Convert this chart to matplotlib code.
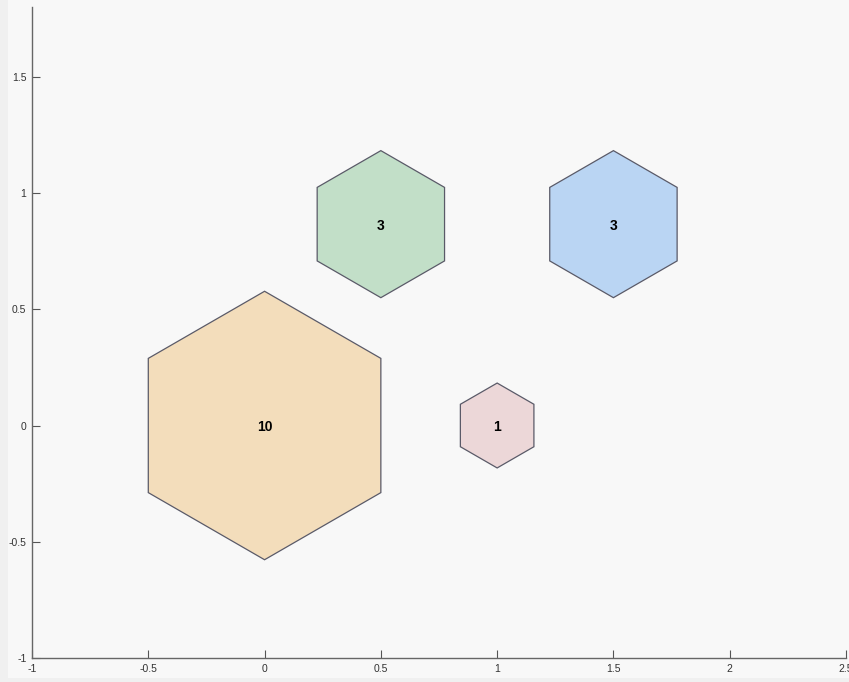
import numpy as np
import matplotlib
matplotlib.use('Agg')
import matplotlib.pyplot as plt
from matplotlib.patches import RegularPolygon, Rectangle

plt.rcParams['font.family'] = ['Liberation Sans', 'DejaVu Sans']

# hexbin cells: centres and counts
cx = [0.0, 0.5, 1.5, 1.0]
cy = [0.0, 0.866, 0.866, 0.0]
counts = [10, 3, 3, 1]
colors = ['#f3ddbb', '#c2dfc8', '#bad5f3', '#ecd7d8']
xticks = [-1, -0.5, 0, 0.5, 1, 1.5, 2, 2.5]
yticks = [-1, -0.5, 0, 0.5, 1, 1.5]

fig = plt.figure(figsize=(8.49, 6.82), dpi=100)
fig.patch.set_facecolor('#f8f8f8')
# slightly darker strips at the left and bottom edges
fig.patches.append(Rectangle((0, 0), 8/849, 1, transform=fig.transFigure,
                             facecolor='#f0f0f0', edgecolor='none', zorder=0))
fig.patches.append(Rectangle((0, 0), 1, 4/682, transform=fig.transFigure,
                             facecolor='#f0f0f0', edgecolor='none', zorder=0))

ax = fig.add_axes([32/849, 24/682, 814/849, 651/682])
ax.set_facecolor('#f8f8f8')

rmax = 1/np.sqrt(3)
cmax = max(counts)
for x, y, c, col in zip(cx, cy, counts, colors):
    r = rmax*np.sqrt(c/cmax)
    ax.add_patch(RegularPolygon((x, y), 6, radius=r, orientation=0,
                                facecolor=col, edgecolor='#5a5a68', linewidth=0.9))
    ax.text(x, y, str(c), ha='center', va='center_baseline', fontsize=10,
            fontweight='bold', color='black')

ax.set_xlim(-1, 2.5)
ax.set_ylim(-1, 1.8)
ax.set_xticks(xticks)
ax.set_xticklabels([f'{t:g}' for t in xticks])
ax.set_yticks(yticks)
ax.set_yticklabels([f'{t:g}' for t in yticks])
for s in ['top', 'right']:
    ax.spines[s].set_visible(False)
for s in ['left', 'bottom']:
    ax.spines[s].set_color('#666666')
    ax.spines[s].set_linewidth(1.0)
ax.tick_params(direction='in', length=6, width=0.8, color='#555555',
               labelsize=7.5, labelcolor='#333333', pad=4)

fig.savefig('out.png', dpi=100, facecolor=fig.get_facecolor())
